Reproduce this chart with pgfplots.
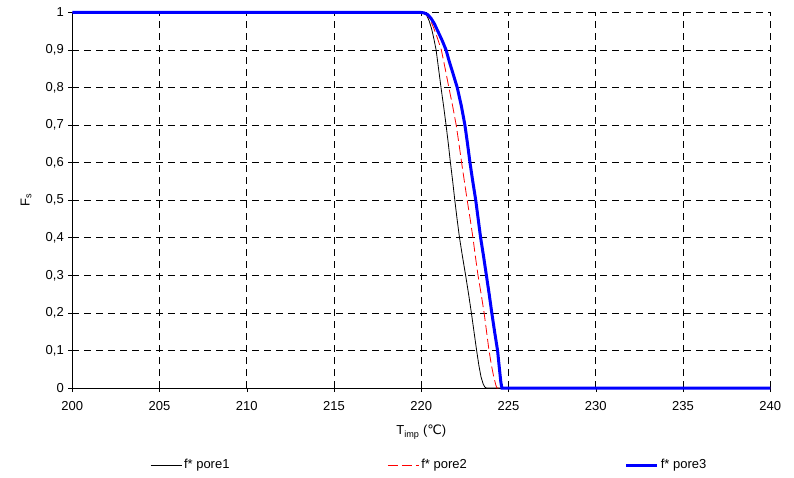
\documentclass[border=0pt]{standalone}
\usepackage{fontspec}
\setmainfont{Liberation Sans}
\newfontfamily\dejavu{DejaVu Sans}
\usepackage{pgfplots}
\pgfplotsset{compat=1.18}
\begin{document}
\fontsize{13bp}{15.6bp}\selectfont
\begin{tikzpicture}
\begin{axis}[
  scale only axis,
  width=698bp, height=375.5bp,
  xmin=200, xmax=240, ymin=0, ymax=1,
  xtick={200,205,...,240},
  ytick={0,0.1,0.2,0.3,0.4,0.5,0.6,0.7,0.8,0.9,1},
  axis lines=left,
  axis line style={-, black, line width=0.8bp},
  tick align=outside,
  major tick length=4bp,
  tick style={black, line width=0.6bp},
  grid=major,
  major grid style={black, line width=0.7bp, dash pattern=on 7bp off 5bp},
  clip=false,
  /pgf/number format/.cd, use comma, 1000 sep={}, assume math mode=true,
  /pgfplots/.cd,
  tick label style={font=\fontsize{13bp}{15.6bp}\selectfont},
  xticklabel style={yshift=-5bp},
  xlabel={T\textsubscript{imp} ({\dejavu ℃})},
  ylabel={F\textsubscript{s}},
  label style={font=\fontsize{13bp}{15.6bp}\selectfont},
  xlabel style={at={(axis description cs:0.5,-0.1172)}, anchor=center},
  ylabel style={at={(axis description cs:-0.0663,0.5)}, anchor=center},
  legend columns=3,
  legend image code/.code={\draw[#1] (0bp,0bp) -- (31bp,0bp);},
  legend style={draw=none, fill=none, at={(axis description cs:0,0)}, anchor=west,
    xshift=77.7bp, yshift=-77bp, inner xsep=0pt, inner ysep=0pt,
    nodes={inner sep=2bp}, font=\fontsize{13bp}{15.6bp}\selectfont,
    /tikz/every even column/.append style={column sep=156bp}},
]
\addplot[black, line width=0.8bp] coordinates {
(200,1) (220,1) (220.15,0.999) (220.3,0.993) (220.45,0.978) (220.6,0.955)
(220.72,0.93) (220.85,0.9) (220.99,0.85) (221.13,0.8) (221.28,0.75)
(221.42,0.7) (221.55,0.65) (221.67,0.6) (221.8,0.55) (221.92,0.5)
(222.05,0.45) (222.19,0.4) (222.36,0.35) (222.54,0.3) (222.71,0.25)
(222.87,0.2) (223.02,0.15) (223.17,0.1) (223.3,0.06) (223.42,0.03)
(223.55,0.01) (223.65,0.002) (223.73,0) (240,0)};
\addlegendentry{f* pore1}
\addplot[red, line width=0.8bp, dash pattern=on 10bp off 4bp] coordinates {
(200,1) (220,1) (220.15,0.999) (220.3,0.995) (220.5,0.982) (220.7,0.96)
(220.9,0.935) (221.15,0.9) (221.37,0.85) (221.58,0.8) (221.8,0.75)
(222.0,0.7) (222.16,0.65) (222.31,0.6) (222.47,0.55) (222.63,0.5)
(222.8,0.45) (222.96,0.4) (223.1,0.35) (223.25,0.3) (223.43,0.25)
(223.6,0.2) (223.74,0.15) (223.88,0.1) (224.02,0.06) (224.15,0.03)
(224.27,0.008) (224.33,0) (240,0)};
\addlegendentry{f* pore2}
\addplot[blue, line width=3bp] coordinates {
(200,1) (220,1) (220.15,0.999) (220.35,0.995) (220.55,0.985) (220.75,0.97)
(220.95,0.95) (221.2,0.925) (221.42,0.9) (221.6,0.87) (221.8,0.84)
(222.06,0.8) (222.3,0.75) (222.5,0.7) (222.65,0.65) (222.79,0.6)
(222.95,0.55) (223.12,0.5) (223.26,0.45) (223.4,0.4) (223.57,0.35)
(223.73,0.3) (223.89,0.25) (224.04,0.2) (224.2,0.15) (224.37,0.1)
(224.48,0.05) (224.56,0.015) (224.62,0) (240,0)};
\addlegendentry{f* pore3}
\end{axis}
\pgfresetboundingbox
\useasboundingbox (-72.3bp,-90bp) rectangle (721.7bp,388bp);
\end{tikzpicture}
\end{document}
